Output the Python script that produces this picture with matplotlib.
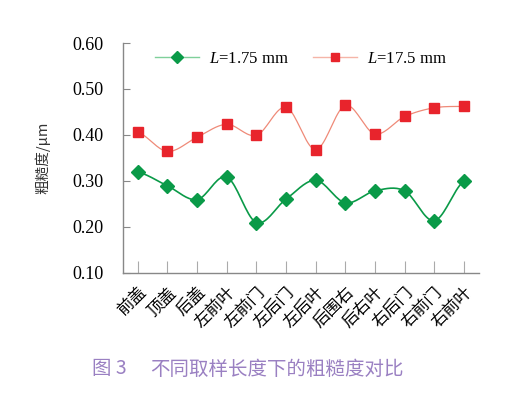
import numpy as np
import matplotlib
matplotlib.use('Agg')
import matplotlib.pyplot as plt

plt.rcParams['font.family'] = ['Liberation Serif', 'Noto Sans CJK SC']
plt.rcParams['mathtext.fontset'] = 'custom'
plt.rcParams['mathtext.rm'] = 'Liberation Serif'
plt.rcParams['mathtext.it'] = 'Liberation Serif:italic'

# data
parts = ['前盖', '顶盖', '后盖', '左前叶', '左前门', '左后门', '左后叶',
         '后围右', '后右叶', '右后门', '右前门', '右前叶']
short_L = [0.319, 0.289, 0.259, 0.308, 0.209, 0.260, 0.301, 0.252, 0.278, 0.278, 0.213, 0.299]
long_L = [0.406, 0.364, 0.395, 0.423, 0.399, 0.460, 0.368, 0.464, 0.402, 0.440, 0.459, 0.462]
yticks = [0.10, 0.20, 0.30, 0.40, 0.50, 0.60]


def smooth(x, y, n=20):
    # Catmull-Rom style smoothing like Excel's smoothed lines
    x = np.asarray(x, float)
    y = np.asarray(y, float)
    px = np.concatenate([[2 * x[0] - x[1]], x, [2 * x[-1] - x[-2]]])
    py = np.concatenate([[y[0]], y, [y[-1]]])
    xs, ys = [], []
    t = np.linspace(0, 1, n)
    for i in range(1, len(px) - 2):
        p0, p1, p2, p3 = py[i - 1], py[i], py[i + 1], py[i + 2]
        q0, q1, q2, q3 = px[i - 1], px[i], px[i + 1], px[i + 2]
        f = lambda a, b, c, d: 0.5 * ((2 * b) + (-a + c) * t + (2 * a - 5 * b + 4 * c - d) * t ** 2 + (-a + 3 * b - 3 * c + d) * t ** 3)
        xs.append(f(q0, q1, q2, q3))
        ys.append(f(p0, p1, p2, p3))
    return np.concatenate(xs), np.concatenate(ys)


fig = plt.figure(figsize=(5.21, 3.95), dpi=100)
ax = fig.add_axes([0.236, 0.310, 0.683, 0.581])

x = np.arange(len(parts))
green = '#0a9a48'
red = '#e8242c'

sx, sy = smooth(x, short_L)
ax.plot(sx, sy, color=green, lw=1.2, zorder=2)
sx, sy = smooth(x, long_L)
ax.plot(sx, sy, color='#ef8a78', lw=0.9, zorder=2)
ax.plot(x, short_L, 'D', color=green, ms=7, zorder=3)
ax.plot(x, long_L, 's', color=red, ms=6.5, zorder=3)

# legend handles
ax.plot([], [], color='#7fd09a', lw=1, marker='D', mfc=green, mec=green, ms=6, label=r'$L$=1.75 mm')
ax.plot([], [], color='#f5b5a8', lw=1, marker='s', mfc=red, mec=red, ms=6, label=r'$L$=17.5 mm')
leg = ax.legend(loc='upper center', ncol=2, frameon=False, fontsize=12,
                bbox_to_anchor=(0.5, 1.03), handlelength=2.6, columnspacing=1.5,
                handletextpad=0.6)

ax.set_xlim(-0.5, len(parts) - 0.5)
ax.set_ylim(0.10, 0.60)
ax.set_yticks(yticks)
ax.set_yticklabels(['%.2f' % v for v in yticks], fontsize=13)
ax.set_xticks(x)
ax.set_xticklabels(parts, rotation=45, ha='right', rotation_mode='anchor',
                   fontsize=12, family=['Noto Sans CJK SC'])

for s in ['top', 'right']:
    ax.spines[s].set_visible(False)
for s in ['left', 'bottom']:
    ax.spines[s].set_color('#888888')
    ax.spines[s].set_linewidth(1.0)
ax.tick_params(axis='y', direction='in', length=5, color='#888888', pad=14)
ax.tick_params(axis='x', direction='in', length=9, color='#aaaaaa', pad=8)

ax.set_ylabel('粗糙度/μm', fontsize=10.5, family=['Noto Sans CJK SC', 'DejaVu Sans'], labelpad=16, color='#333333')

fig.text(0.176, 0.052, '图 3', fontsize=14, color='#9a80c2', family=['Noto Sans CJK SC'])
fig.text(0.288, 0.052, '不同取样长度下的粗糙度对比', fontsize=14, color='#9a80c2', family=['Noto Sans CJK SC'])

fig.savefig('out.png', dpi=100)
